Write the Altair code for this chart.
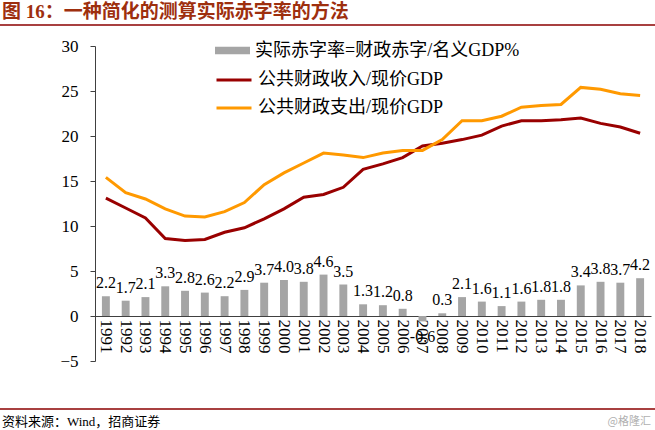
import altair as alt
import pandas as pd

FONT = "Liberation Serif, Noto Sans CJK SC"

years = [str(y) for y in range(1991, 2019)]
deficit = [2.2, 1.7, 2.1, 3.3, 2.8, 2.6, 2.2, 2.9, 3.7, 4.0, 3.8, 4.6, 3.5, 1.3,
           1.2, 0.8, -0.6, 0.3, 2.1, 1.6, 1.1, 1.6, 1.8, 1.8, 3.4, 3.8, 3.7, 4.2]
revenue = [13.1, 12.0, 10.9, 8.6, 8.4, 8.5, 9.3, 9.8, 10.8, 11.9, 13.2, 13.5, 14.3, 16.3,
           16.9, 17.6, 18.9, 19.2, 19.6, 20.1, 21.1, 21.7, 21.7, 21.8, 22.0, 21.4, 21.0, 20.3]
expenditure = [15.4, 13.7, 13.0, 11.9, 11.1, 11.0, 11.6, 12.6, 14.6, 15.9, 17.0, 18.1, 17.9, 17.6,
               18.1, 18.4, 18.4, 19.6, 21.7, 21.7, 22.2, 23.2, 23.4, 23.5, 25.4, 25.2, 24.7, 24.5]

LEG_BAR = "实际赤字率=财政赤字/名义GDP%"
LEG_REV = "公共财政收入/现价GDP"
LEG_EXP = "公共财政支出/现价GDP"
TITLE = "图 16：一种简化的测算实际赤字率的方法"
SOURCE = "资料来源：Wind，招商证券"
WATERMARK = "@格隆汇"
y_ticks = [-5, 0, 5, 10, 15, 20, 25, 30]

bar_df = pd.DataFrame({"year": years, "value": deficit, "series": LEG_BAR})
bar_df["label"] = [f"{v:.1f}" for v in deficit]
line_df = pd.DataFrame({
    "year": years * 2,
    "value": revenue + expenditure,
    "series": [LEG_REV] * len(years) + [LEG_EXP] * len(years),
})

x_enc = alt.X(
    "year:N", sort=years,
    scale=alt.Scale(paddingInner=0.6, paddingOuter=0.35),
    axis=alt.Axis(title=None, labelAngle=90, labelAlign="left", labelBaseline="middle",
                  ticks=False, labelPadding=3, offset=-45, domainColor="#404040",
                  labelFont=FONT, labelFontSize=17, labelColor="black"),
)
y_enc = alt.Y(
    "value:Q",
    scale=alt.Scale(domain=[-5, 30], nice=False, zero=False),
    axis=alt.Axis(title=None, values=y_ticks, grid=False, tickSize=5, labelPadding=12,
                  domainColor="#404040", tickColor="#404040",
                  labelFont=FONT, labelFontSize=17, labelColor="black"),
)

bars = alt.Chart(bar_df).mark_bar().encode(
    x=x_enc, y=y_enc,
    fill=alt.Fill("series:N", scale=alt.Scale(domain=[LEG_BAR], range=["#a5a5a5"]),
                  legend=alt.Legend(title=None, orient="none", legendX=120, legendY=-13,
                                    symbolType="M-1,-0.22H1V0.22H-1Z", symbolSize=1225,
                                    symbolStrokeWidth=0, labelFont=FONT, labelFontSize=18,
                                    labelColor="black", labelOffset=5, padding=0,
                                    labelLimit=400)),
)

lines = alt.Chart(line_df).mark_line(strokeWidth=3).encode(
    x=alt.X("year:N", sort=years, bandPosition=0.5),
    y="value:Q",
    stroke=alt.Stroke("series:N", scale=alt.Scale(domain=[LEG_REV, LEG_EXP],
                                                  range=["#990000", "#ff9900"]),
                      legend=alt.Legend(title=None, orient="none", legendX=120, legendY=15,
                                        symbolType="stroke", symbolSize=1225,
                                        symbolStrokeWidth=3, labelFont=FONT, labelFontSize=18,
                                        labelColor="black", labelOffset=5, padding=0,
                                        rowPadding=-7, labelLimit=400)),
)

labels_pos = alt.Chart(bar_df).transform_filter("datum.value >= 0").mark_text(
    baseline="bottom", dy=-5, font=FONT, fontSize=16, color="black"
).encode(x=alt.X("year:N", sort=years, bandPosition=0.5), y="value:Q", text="label:N")

labels_neg = alt.Chart(bar_df).transform_filter("datum.value < 0").mark_text(
    baseline="top", dy=8, font=FONT, fontSize=16, color="black"
).encode(x=alt.X("year:N", sort=years, bandPosition=0.5), y="value:Q", text="label:N")

title = alt.Chart(pd.DataFrame({"t": [TITLE]})).mark_text(
    align="left", baseline="middle", font=FONT, fontSize=19, fontWeight="bold", color="#9e2f0e"
).encode(x=alt.value(-93), y=alt.value(-34), text="t:N")

title_rule = alt.Chart(pd.DataFrame({"a": [0]})).mark_rule(color="#8b0000", strokeWidth=1.5).encode(
    x=alt.value(-95), x2=alt.value(560), y=alt.value(-21))

foot_rule = alt.Chart(pd.DataFrame({"a": [0]})).mark_rule(color="#8b0000", strokeWidth=1.5).encode(
    x=alt.value(-95), x2=alt.value(560), y=alt.value(363))

source = alt.Chart(pd.DataFrame({"t": [SOURCE]})).mark_text(
    align="left", baseline="middle", font=FONT, fontSize=13, color="black"
).encode(x=alt.value(-93), y=alt.value(376), text="t:N")

mark = alt.Chart(pd.DataFrame({"t": [WATERMARK]})).mark_text(
    align="right", baseline="middle", font="Noto Sans CJK SC", fontSize=11, color="#b0b0b0"
).encode(x=alt.value(556), y=alt.value(376), text="t:N")

chart = alt.layer(
    bars, lines, labels_pos, labels_neg, title, title_rule, foot_rule, source, mark
).resolve_scale(fill="independent", stroke="independent").properties(
    width=556, height=315,
    autosize=alt.AutoSizeParams(type="none"),
    padding={"left": 95, "top": 46, "right": 4, "bottom": 69},
    background="white",
).configure_view(stroke=None)

chart.save("out.html", embed_options={"renderer": "svg", "actions": False})
